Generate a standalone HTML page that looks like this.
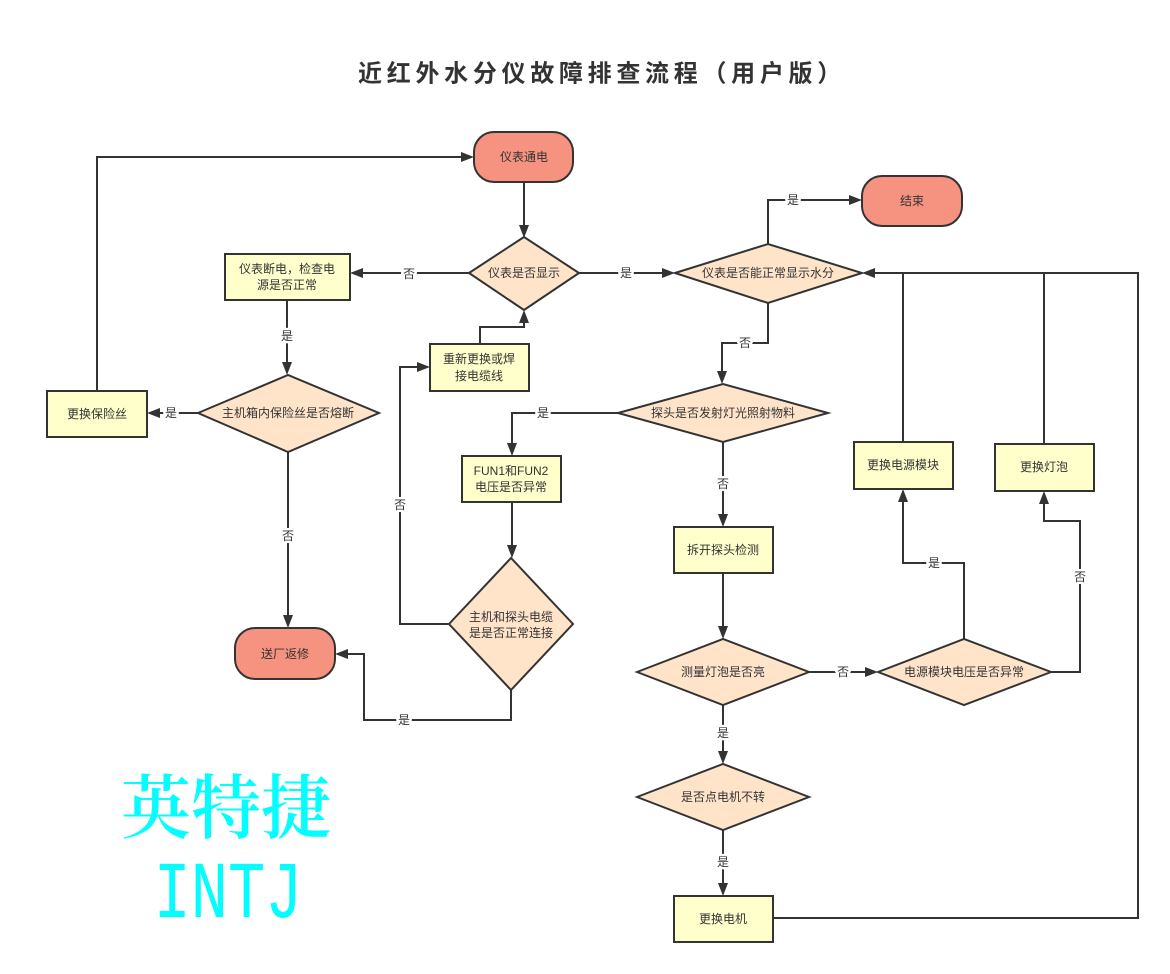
<!DOCTYPE html>
<html><head><meta charset="utf-8"><style>
html,body{margin:0;padding:0;background:#fff;}
svg{display:block;}
text{font-family:"Liberation Sans","Noto Sans CJK SC",sans-serif;fill:#333;}
.n{font-size:12px;text-anchor:middle;dominant-baseline:central;}
.lb{font-size:12px;text-anchor:middle;dominant-baseline:central;stroke:#fff;stroke-width:5px;paint-order:stroke;stroke-linejoin:round;}
.ln{fill:none;stroke:#333;stroke-width:2;}
.st{fill:#F59380;stroke:#333;stroke-width:2;}
.dm{fill:#FFE4CA;stroke:#333;stroke-width:2;}
.rc{fill:#FFFFCC;stroke:#333;stroke-width:2;}
.ar{fill:#333;}
</style></head><body>
<svg width="1170" height="974" viewBox="0 0 1170 974" xmlns="http://www.w3.org/2000/svg">
<text x="602" y="74" style="font-size:24px;font-weight:bold;letter-spacing:4.7px;text-anchor:middle;dominant-baseline:central;fill:#333;">近红外水分仪故障排查流程（用户版）</text>

<!-- connectors -->
<polyline class="ln" points="524,182 524,226"/>
<polygon class="ar" points="524,238 519,225 529,225"/>

<polyline class="ln" points="469,273 362,273"/>
<polygon class="ar" points="350,273 363,268 363,278"/>
<text class="lb" x="409" y="274">否</text>

<polyline class="ln" points="579,273 663,273"/>
<polygon class="ar" points="675,273 662,268 662,278"/>
<text class="lb" x="626" y="273">是</text>

<polyline class="ln" points="287,300 287,363"/>
<polygon class="ar" points="287,375 282,362 292,362"/>
<text class="lb" x="287" y="336">是</text>

<polyline class="ln" points="198,413 159,413"/>
<polygon class="ar" points="147,413 160,408 160,418"/>
<text class="lb" x="171" y="413">是</text>

<polyline class="ln" points="288,452 288,616"/>
<polygon class="ar" points="288,628 283,615 293,615"/>
<text class="lb" x="288" y="536">否</text>

<polyline class="ln" points="97,391 97,157 462,157"/>
<polygon class="ar" points="474,157 461,152 461,162"/>

<polyline class="ln" points="449,624 400,624 400,367 418,367"/>
<polygon class="ar" points="430,367 417,362 417,372"/>
<text class="lb" x="400" y="505">否</text>

<polyline class="ln" points="480,344 480,327 524,327 524,322"/>
<polygon class="ar" points="524,310 519,323 529,323"/>

<polyline class="ln" points="511,690 511,720 364,720 364,654 347,654"/>
<polygon class="ar" points="335,654 348,649 348,659"/>
<text class="lb" x="404" y="720">是</text>

<polyline class="ln" points="512,502 512,546"/>
<polygon class="ar" points="512,558 507,545 517,545"/>

<polyline class="ln" points="618,413 512,413 512,444"/>
<polygon class="ar" points="512,456 507,443 517,443"/>
<text class="lb" x="543" y="413">是</text>

<polyline class="ln" points="768,303 768,343 722,343 722,372"/>
<polygon class="ar" points="722,384 717,371 727,371"/>
<text class="lb" x="745" y="343">否</text>

<polyline class="ln" points="768,244 768,200 850,200"/>
<polygon class="ar" points="862,200 849,195 849,205"/>
<text class="lb" x="793" y="200">是</text>

<polyline class="ln" points="723,442 723,515"/>
<polygon class="ar" points="723,527 718,514 728,514"/>
<text class="lb" x="723" y="484">否</text>

<polyline class="ln" points="723,573 723,627"/>
<polygon class="ar" points="723,639 718,626 728,626"/>

<polyline class="ln" points="809,672 866,672"/>
<polygon class="ar" points="878,672 865,667 865,677"/>
<text class="lb" x="843" y="672">否</text>

<polyline class="ln" points="723,705 723,752"/>
<polygon class="ar" points="723,764 718,751 728,751"/>
<text class="lb" x="723" y="733">是</text>

<polyline class="ln" points="723,830 723,884"/>
<polygon class="ar" points="723,896 718,883 728,883"/>
<text class="lb" x="723" y="862">是</text>

<polyline class="ln" points="773,918 1138,918 1138,273 874,273"/>
<polygon class="ar" points="862,273 875,268 875,278"/>

<polyline class="ln" points="903,442 903,273"/>
<polyline class="ln" points="1044,444 1044,273"/>

<polyline class="ln" points="964,639 964,563 903,563 903,501"/>
<polygon class="ar" points="903,489 898,502 908,502"/>
<text class="lb" x="934" y="563">是</text>

<polyline class="ln" points="1051,672 1080,672 1080,521 1044,521 1044,503"/>
<polygon class="ar" points="1044,491 1039,504 1049,504"/>
<text class="lb" x="1080" y="577">否</text>

<!-- stadiums -->
<rect class="st" x="474" y="132" width="99" height="50" rx="20" ry="20"/>
<text class="n" x="524" y="157">仪表通电</text>
<rect class="st" x="862" y="176" width="100" height="50" rx="20" ry="20"/>
<text class="n" x="912" y="201">结束</text>
<rect class="st" x="235" y="628" width="100" height="51" rx="20" ry="20"/>
<text class="n" x="285" y="654">送厂返修</text>

<!-- diamonds -->
<polygon class="dm" points="469,273 524,237 579,273 524,310"/>
<text class="n" x="524" y="273">仪表是否显示</text>
<polygon class="dm" points="675,273 768,244 862,273 768,303"/>
<text class="n" x="768" y="273">仪表是否能正常显示水分</text>
<polygon class="dm" points="198,413 288,375 379,413 288,452"/>
<text class="n" x="288" y="413">主机箱内保险丝是否熔断</text>
<polygon class="dm" points="618,413 723,384 828,413 723,442"/>
<text class="n" x="723" y="413">探头是否发射灯光照射物料</text>
<polygon class="dm" points="449,624 511,558 573,624 511,690"/>
<text class="n" x="511" y="617">主机和探头电缆</text>
<text class="n" x="511" y="633">是是否正常连接</text>
<polygon class="dm" points="637,672 723,639 809,672 723,705"/>
<text class="n" x="723" y="672">测量灯泡是否亮</text>
<polygon class="dm" points="878,672 964,639 1051,672 964,705"/>
<text class="n" x="964" y="672">电源模块电压是否异常</text>
<polygon class="dm" points="637,797 723,764 809,797 723,830"/>
<text class="n" x="723" y="797">是否点电机不转</text>

<!-- rects -->
<rect class="rc" x="225" y="254" width="125" height="46"/>
<text class="n" x="287" y="269">仪表断电，检查电</text>
<text class="n" x="287" y="285">源是否正常</text>
<rect class="rc" x="47" y="391" width="100" height="46"/>
<text class="n" x="97" y="414">更换保险丝</text>
<rect class="rc" x="430" y="344" width="99" height="47"/>
<text class="n" x="479" y="359">重新更换或焊</text>
<text class="n" x="479" y="376">接电缆线</text>
<rect class="rc" x="462" y="456" width="99" height="46"/>
<text class="n" x="511" y="471">FUN1和FUN2</text>
<text class="n" x="511" y="487">电压是否异常</text>
<rect class="rc" x="674" y="527" width="99" height="46"/>
<text class="n" x="723" y="550">拆开探头检测</text>
<rect class="rc" x="674" y="896" width="99" height="46"/>
<text class="n" x="723" y="919">更换电机</text>
<rect class="rc" x="854" y="442" width="99" height="47"/>
<text class="n" x="903" y="465">更换电源模块</text>
<rect class="rc" x="995" y="444" width="99" height="47"/>
<text class="n" x="1044" y="467">更换灯泡</text>

<!-- watermark -->
<text x="226" y="803" style="font-family:'Noto Serif CJK SC','Liberation Serif',serif;font-size:70px;font-weight:600;fill:#00FFFF;text-anchor:middle;dominant-baseline:central;">英特捷</text>
<text x="0" y="0" transform="translate(228,917) scale(1,1.3)" style="font-family:'Liberation Mono',monospace;font-size:62px;fill:#00FFFF;text-anchor:middle;">INTJ</text>
</svg>
</body></html>
